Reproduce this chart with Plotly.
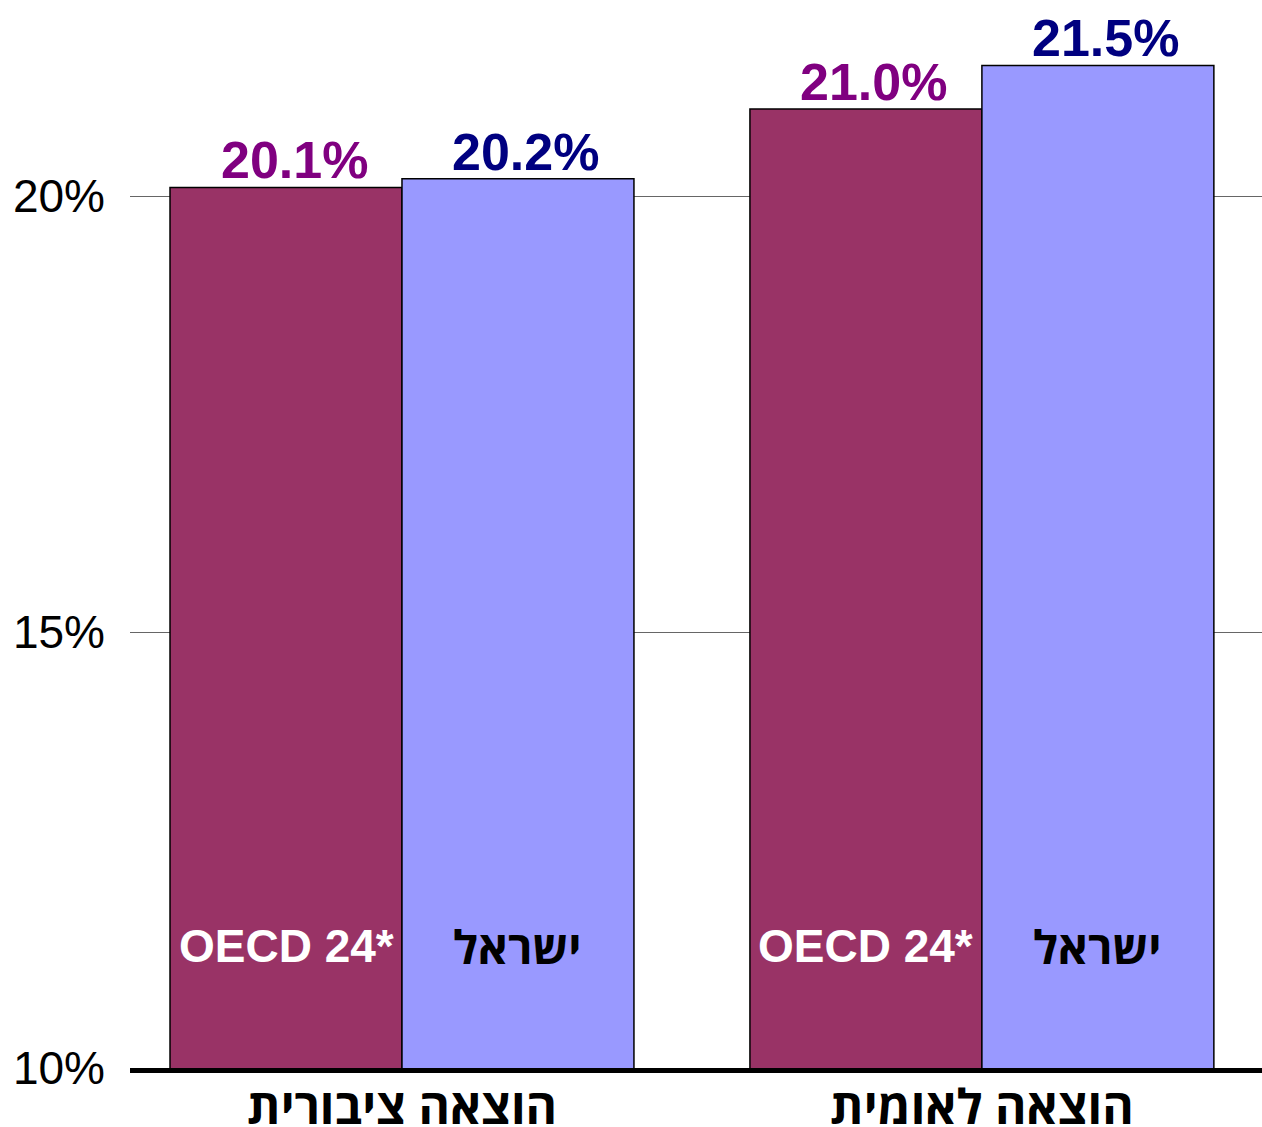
import plotly.graph_objects as go

categories = ["הוצאה ציבורית", "הוצאה לאומית"]
series_names = ["OECD 24*", "ישראל"]
oecd_values = [20.1, 21.0]
israel_values = [20.2, 21.5]
tick_vals = [10, 15, 20]
tick_text = ["10%", "15%", "20%"]

bar_colors = ["#993366", "#9999FF"]
label_colors = ["#800080", "#000080"]
inside_colors = ["white", "black"]
inside_fonts = ["Arial", "Open Sans"]

fig = go.Figure()
all_vals = [oecd_values, israel_values]
for name, vals, bc in zip(series_names, all_vals, bar_colors):
    fig.add_trace(go.Bar(
        x=categories, y=vals, name=name,
        marker=dict(color=bc, line=dict(color="black", width=1.5)),
    ))

# value labels above the bars
for si, (vals, lc) in enumerate(zip(all_vals, label_colors)):
    for ci, v in enumerate(vals):
        fig.add_annotation(
            x=ci - 0.2 + 0.4 * si, y=v, xref="x", yref="y",
            yanchor="bottom", xshift=8, yshift=-4,
            text=f"<b>{v:.1f}%</b>", showarrow=False,
            font=dict(family="Arial", size=52, color=lc),
        )

# series names drawn inside the bars
for ci in range(len(categories)):
    for si, (name, col, fam) in enumerate(zip(series_names, inside_colors, inside_fonts)):
        fig.add_annotation(
            x=ci - 0.2 + 0.4 * si, y=11.4, xref="x", yref="y",
            text=f"<b>{name}</b>", showarrow=False,
            font=dict(family=fam, size=46, color=col),
        )

# category labels under the axis
for ci, cat in enumerate(categories):
    fig.add_annotation(
        x=ci, y=0, xref="x", yref="paper", yanchor="middle", yshift=-37,
        text=f"<b>{cat}</b>", showarrow=False, borderpad=0,
        font=dict(family="Open Sans", size=48, color="black"),
    )

fig.update_layout(
    width=1262, height=1127,
    margin=dict(l=130, r=0, t=0, b=59),
    barmode="group", bargap=0.2, bargroupgap=0,
    plot_bgcolor="white", paper_bgcolor="white",
    showlegend=False,
    font=dict(family="Arial", color="black"),
)
fig.update_xaxes(
    range=[-0.469, 1.483],
    showline=True, linecolor="black", linewidth=5,
    showticklabels=False,
    ticks="", showgrid=False, automargin=False,
)
fig.update_yaxes(
    range=[10, 22.25], tickvals=tick_vals, ticktext=tick_text,
    showgrid=True, gridcolor="#666666", gridwidth=1,
    tickfont=dict(family="Arial", size=46, color="black"),
    ticks="", ticklabelstandoff=24, zeroline=False, automargin=False,
)

fig.write_html("out.html", config={"displayModeBar": False},
               post_script="document.body.style.margin='0';document.body.style.overflow='hidden';")
